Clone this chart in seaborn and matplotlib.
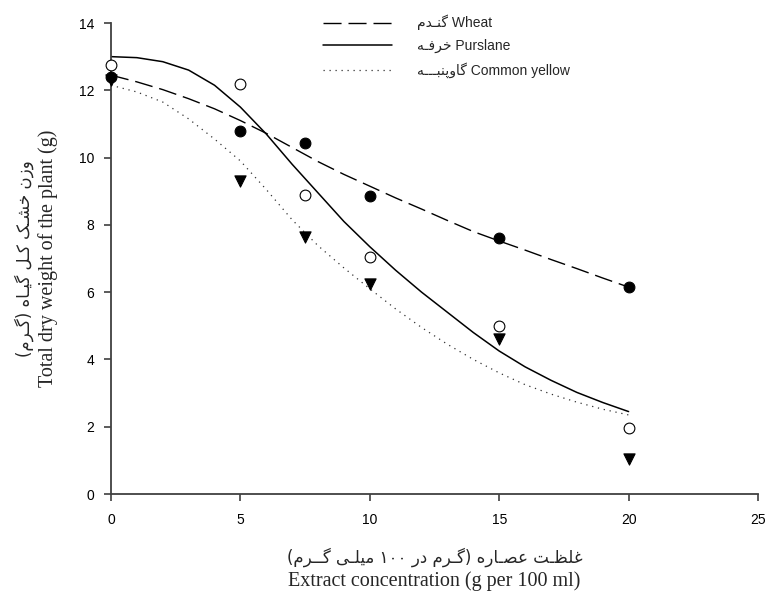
import numpy as np
import pandas as pd
import matplotlib
matplotlib.use('Agg')
import matplotlib.pyplot as plt
import seaborn as sns

sns.set_style('ticks')
plt.rcParams['font.family'] = ['Liberation Sans', 'DejaVu Sans']
plt.rcParams['axes.edgecolor'] = '#404040'
plt.rcParams['xtick.color'] = '#404040'
plt.rcParams['ytick.color'] = '#404040'
plt.rcParams['xtick.labelcolor'] = 'black'
plt.rcParams['ytick.labelcolor'] = 'black'

# Persian strings are written in visual (left-to-right) order with
# Arabic presentation forms, since matplotlib does no shaping.
fa_wheat = '\uFEE1\uFEAA\u0640\uFEE8\uFB94'
fa_purslane = '\uFEEA\u0640\uFED3\uFEAE\uFEA7'
fa_yellow = '\uFEEA\u0640\u0640\u0640\uFE92\uFEE8\uFB58\uFEED\uFE8E\uFB94'
fa_ylabel = ('(\uFEE1\uFEAE\u0640\uFB94) \uFEE9\uFE8E\u0640\uFBFF\uFB94 '
             '\uFEDE\u0640\uFB90 \uFB8F\u0640\uFEB8\uFEA7 \uFEE5\uFEAF\uFEED')
fa_xlabel = ('(\uFEE1\uFEAE\u0640\u0640\uFB94 \uFBFD\u0640\uFEE0\uFBFF\uFEE3 '
             '\u06F1\u06F0\u06F0 \uFEAD\uFEA9 \uFEE1\uFEAE\u0640\uFB94) '
             '\uFEE9\uFEAD\uFE8E\u0640\uFEBC\uFECB \uFE96\u0640\uFEC8\uFEE0\uFECF')

series = ['Wheat', 'Purslane', 'Common yellow']
labels = [fa_wheat + ' Wheat', fa_purslane + ' Purslane', fa_yellow + ' Common yellow']

# observed points
conc = [0, 5, 7.5, 10, 15, 20]
wheat_obs = [12.4, 10.8, 10.42, 8.85, 7.62, 6.15]
purslane_obs = [12.75, 12.2, 8.9, 7.05, 5.0, 1.97]
yellow_obs = [12.3, 9.3, 7.65, 6.25, 4.6, 1.05]

# fitted curves
fit_x = list(range(0, 21))
wheat_fit = [12.45, 12.25, 12.02, 11.75, 11.45, 11.1, 10.72, 10.3, 9.88, 9.5,
             9.15, 8.8, 8.47, 8.13, 7.8, 7.52, 7.25, 6.97, 6.7, 6.42, 6.15]
purslane_fit = [13.0, 12.97, 12.85, 12.6, 12.15, 11.5, 10.7, 9.8, 8.95, 8.1,
                7.35, 6.65, 6.0, 5.4, 4.8, 4.25, 3.78, 3.38, 3.02, 2.72, 2.45]
yellow_fit = [12.15, 11.95, 11.65, 11.15, 10.55, 9.9, 9.05, 8.15, 7.38, 6.72,
              6.1, 5.5, 4.95, 4.45, 4.0, 3.6, 3.25, 2.97, 2.73, 2.52, 2.35]

fig = plt.figure(figsize=(7.7, 6.01), dpi=100)
ax = fig.add_axes([111 / 770, 1 - 494 / 601, (758 - 111) / 770, (494 - 23) / 601])

sns.lineplot(x=fit_x, y=wheat_fit, ax=ax, color='black', lw=1.0, label=labels[0])
sns.lineplot(x=fit_x, y=purslane_fit, ax=ax, color='black', lw=1.1, label=labels[1])
sns.lineplot(x=fit_x, y=yellow_fit, ax=ax, color='#333333', lw=0.9, label=labels[2])
ax.lines[0].set_dashes((13, 5))
ax.lines[2].set_dashes((1, 3.8))

sns.scatterplot(x=conc, y=wheat_obs, ax=ax, marker='o', s=60, color='black',
                edgecolor='black', linewidth=0.8, zorder=3, legend=False, clip_on=False)
sns.scatterplot(x=conc, y=purslane_obs, ax=ax, marker='o', s=60, facecolor='white',
                edgecolor='black', linewidth=0.8, zorder=3, legend=False, clip_on=False)
sns.scatterplot(x=conc, y=yellow_obs, ax=ax, marker='v', s=65, color='black',
                edgecolor='black', linewidth=0.8, zorder=3, legend=False, clip_on=False)

ax.set_xlim(0, 25)
ax.set_ylim(0, 14)
ax.set_xticks(np.arange(0, 26, 5))
ax.set_yticks(np.arange(0, 15, 2))
ax.tick_params(direction='out', length=5, width=1.2, labelsize=10)
ax.tick_params(axis='x', pad=9)
ax.tick_params(axis='y', pad=7)
for s in ['left', 'bottom']:
    ax.spines[s].set_linewidth(1.3)
sns.despine(ax=ax)
ax.set_xlabel('')
ax.set_ylabel('')

leg = ax.legend(loc='upper left', bbox_to_anchor=(323 / 770, 1 - 15 / 601),
                bbox_transform=fig.transFigure, frameon=False, borderpad=0,
                borderaxespad=0, handlelength=5.0, handletextpad=1.8,
                labelspacing=0.62,
                prop={'family': ['Liberation Sans', 'DejaVu Sans'], 'size': 10})

serif = ['Liberation Serif', 'DejaVu Sans']
cx = (111 + 758) / 2 / 770
fig.text(cx, 1 - 557 / 601, fa_xlabel, ha='center', va='center', fontsize=12,
         family=['DejaVu Sans'])
fig.text(cx, 1 - 581 / 601, 'Extract concentration (g per 100 ml)', ha='center',
         va='center', fontsize=14.5, family=serif)
cy = 1 - (494 + 23) / 2 / 601
fig.text(24 / 770, cy, fa_ylabel, ha='center', va='center', rotation=90,
         fontsize=12, family=['DejaVu Sans'])
fig.text(48 / 770, cy, 'Total dry weight of the plant (g)', ha='center',
         va='center', rotation=90, fontsize=14.5, family=serif)

fig.savefig('out.png', dpi=100)
